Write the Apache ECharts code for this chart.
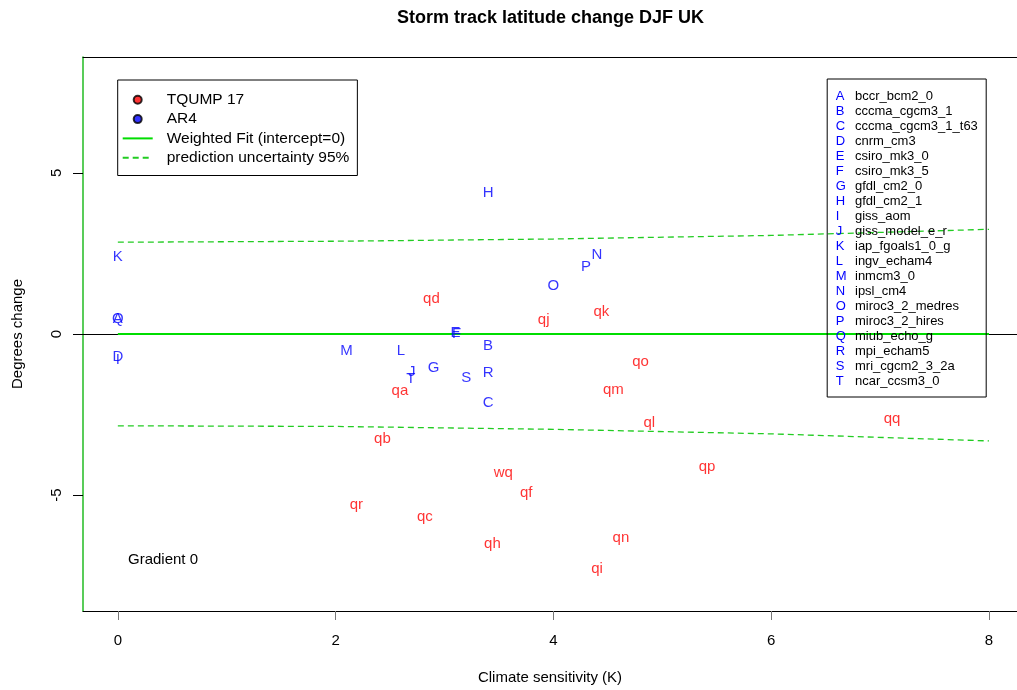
<!DOCTYPE html>
<html>
<head>
<meta charset="utf-8">
<script src="https://cdn.jsdelivr.net/npm/echarts@6/dist/echarts.min.js"></script>
<style>html,body{margin:0;padding:0;background:#fff}#c{width:1017px;height:690px}</style>
</head>
<body>
<div id="c"></div>
<script>
// ---- data ----
const xTicks = [0, 2, 4, 6, 8];
const yTicks = [-5, 0, 5];

const ar4Letters = ['A','B','C','D','E','F','G','H','I','J','K','L','M','N','O','P','Q','R','S','T'];
const ar4Names = ['bccr_bcm2_0','cccma_cgcm3_1','cccma_cgcm3_1_t63','cnrm_cm3','csiro_mk3_0','csiro_mk3_5',
  'gfdl_cm2_0','gfdl_cm2_1','giss_aom','giss_model_e_r','iap_fgoals1_0_g','ingv_echam4','inmcm3_0',
  'ipsl_cm4','miroc3_2_medres','miroc3_2_hires','miub_echo_g','mpi_echam5','mri_cgcm2_3_2a','ncar_ccsm3_0'];
const ar4X = [0.00, 3.40, 3.40, 0.00, 3.10, 3.11, 2.90, 3.40, 0.00, 2.70, 0.00, 2.60, 2.10, 4.40, 4.00, 4.30, 0.00, 3.40, 3.20, 2.69];
const ar4Y = [0.48, -0.36, -2.14, -0.72, 0.03, 0.00, -1.05, 4.39, -0.80, -1.18, 2.38, -0.53, -0.53, 2.45, 1.50, 2.10, 0.48, -1.21, -1.37, -1.39];

const tqLabels = ['qa','qb','qc','qd','qf','qh','qi','qj','qk','ql','qm','qn','qo','qp','qq','qr','wq'];
const tqX = [2.59, 2.43, 2.82, 2.88, 3.75, 3.44, 4.40, 3.91, 4.44, 4.88, 4.55, 4.62, 4.80, 5.41, 7.11, 2.19, 3.54];
const tqY = [-1.75, -3.27, -5.68, 1.10, -4.93, -6.50, -7.28, 0.44, 0.69, -2.76, -1.73, -6.33, -0.88, -4.13, -2.63, -5.29, -4.30];

const fitX = [0, 8];
const fitY = [0, 0];
const predX = [0, 2, 4, 6, 8];
const upperY = [2.85, 2.88, 2.95, 3.06, 3.25];
const lowerY = [-2.85, -2.87, -2.96, -3.10, -3.32];

// ---- chart ----
const FONT = 'Liberation Sans';
const chart = echarts.init(document.getElementById('c'), null, {renderer: 'canvas'});
const zip = (xs, ys, ls) => xs.map((x, i) => ls ? [x, ys[i], ls[i]] : [x, ys[i]]);

const keyText = ar4Letters.map((l, i) => `{l|${l}}{n|${ar4Names[i]}}`).join('\n');
const NOFILL = 'rgba(0,0,0,0)';

chart.setOption({
  animation: false,
  textStyle: {fontFamily: FONT},
  title: [
    {text: 'Storm track latitude change DJF UK', left: 397, top: 9, padding: 0,
     textStyle: {fontFamily: FONT, fontSize: 18, fontWeight: 'bold', color: '#000'}},
    {text: 'Gradient 0', left: 128, top: 552, padding: 0,
     textStyle: {fontFamily: FONT, fontSize: 15, fontWeight: 'normal', color: '#000'}},
    {text: keyText, left: 826.7, top: 79, padding: [9.5, 9, 9, 9],
     borderColor: '#000', borderWidth: 1,
     textStyle: {fontFamily: FONT, fontSize: 13, fontWeight: 'normal', lineHeight: 15,
       rich: {
         l: {fontFamily: FONT, fontSize: 13, color: '#0000ff', width: 19.3, lineHeight: 15},
         n: {fontFamily: FONT, fontSize: 13, color: '#000', width: 122, lineHeight: 15}
       }}}
  ],
  legend: {
    left: 117.7, top: 80, orient: 'vertical',
    padding: [11.8, 8, 9.8, 4],
    borderColor: '#000', borderWidth: 1,
    itemWidth: 30, itemHeight: 8, itemGap: 3.3,
    selectedMode: false,
    textStyle: {fontFamily: FONT, fontSize: 15.5, color: '#000', lineHeight: 15, padding: [0, 0, 0, 9]},
    data: [
      {name: 'TQUMP 17', icon: 'circle'},
      {name: 'AR4', icon: 'circle'},
      {name: 'Weighted Fit (intercept=0)'},
      {name: 'prediction uncertainty 95%'}
    ]
  },
  grid: {left: 83, right: 0, top: 57, bottom: 77, containLabel: false},
  xAxis: [
    {type: 'value', position: 'bottom', min: -0.32, max: 8.257,
     name: 'Climate sensitivity (K)', nameLocation: 'middle', nameGap: 59,
     nameTextStyle: {fontFamily: FONT, fontSize: 15, color: '#000'},
     axisLine: {show: true, onZero: false, lineStyle: {color: '#000', width: 1}},
     axisTick: {show: true, customValues: xTicks, length: 9, lineStyle: {color: '#777'}},
     axisLabel: {show: true, customValues: xTicks, margin: 22, fontFamily: FONT, fontSize: 15, color: '#000'},
     splitLine: {show: false}},
    {type: 'value', position: 'top', min: -0.32, max: 8.257,
     axisLine: {show: true, onZero: false, lineStyle: {color: '#000', width: 1}},
     axisTick: {show: false}, axisLabel: {show: false}, splitLine: {show: false}}
  ],
  yAxis: [
    {type: 'value', min: -8.6, max: 8.6,
     name: 'Degrees change', nameLocation: 'middle', nameGap: 58, nameRotate: 90,
     nameTextStyle: {fontFamily: FONT, fontSize: 15, color: '#000'},
     axisLine: {show: true, onZero: false, lineStyle: {color: '#22bb22', width: 1.5}},
     axisTick: {show: true, customValues: yTicks, length: 10, lineStyle: {color: '#000'}},
     axisLabel: {show: true, customValues: yTicks, rotate: 90, margin: 19,
       fontFamily: FONT, fontSize: 15, color: '#000'},
     splitLine: {show: false}}
  ],
  series: [
    {name: 'zero', type: 'line', data: [], silent: true, z: 1,
     markLine: {silent: true, symbol: ['none', 'none'], label: {show: false}, z: 1,
       lineStyle: {color: '#000', width: 1, type: 'solid'}, data: [{yAxis: 0}]}},
    {name: 'prediction uncertainty 95%', type: 'line', data: zip(predX, upperY), symbol: 'none', z: 3,
     lineStyle: {color: '#22cc22', width: 1.3, type: [6, 4]}, itemStyle: {color: NOFILL, borderColor: NOFILL}, silent: true},
    {name: 'prediction uncertainty 95%', type: 'line', data: zip(predX, lowerY), symbol: 'none', z: 3,
     lineStyle: {color: '#22cc22', width: 1.3, type: [6, 4]}, itemStyle: {color: NOFILL, borderColor: NOFILL}, silent: true},
    {name: 'Weighted Fit (intercept=0)', type: 'line', data: zip(fitX, fitY), symbol: 'none', z: 4,
     lineStyle: {color: '#00dd00', width: 2}, itemStyle: {color: NOFILL, borderColor: NOFILL}, silent: true},
    {name: 'AR4', type: 'scatter', data: zip(ar4X, ar4Y, ar4Letters), symbol: 'circle', symbolSize: 0, z: 5,
     itemStyle: {color: '#0000ff', borderColor: '#000', borderWidth: 1}, silent: true,
     label: {show: true, position: 'inside', formatter: p => p.data[2],
       fontFamily: FONT, fontSize: 15, color: '#0000ff'}},
    {name: 'TQUMP 17', type: 'scatter', data: zip(tqX, tqY, tqLabels), symbol: 'circle', symbolSize: 0, z: 5,
     itemStyle: {color: '#ff0000', borderColor: '#000', borderWidth: 1}, silent: true,
     label: {show: true, position: 'inside', formatter: p => p.data[2],
       fontFamily: FONT, fontSize: 15, color: '#ff0000'}}
  ]
});
</script>
</body>
</html>
